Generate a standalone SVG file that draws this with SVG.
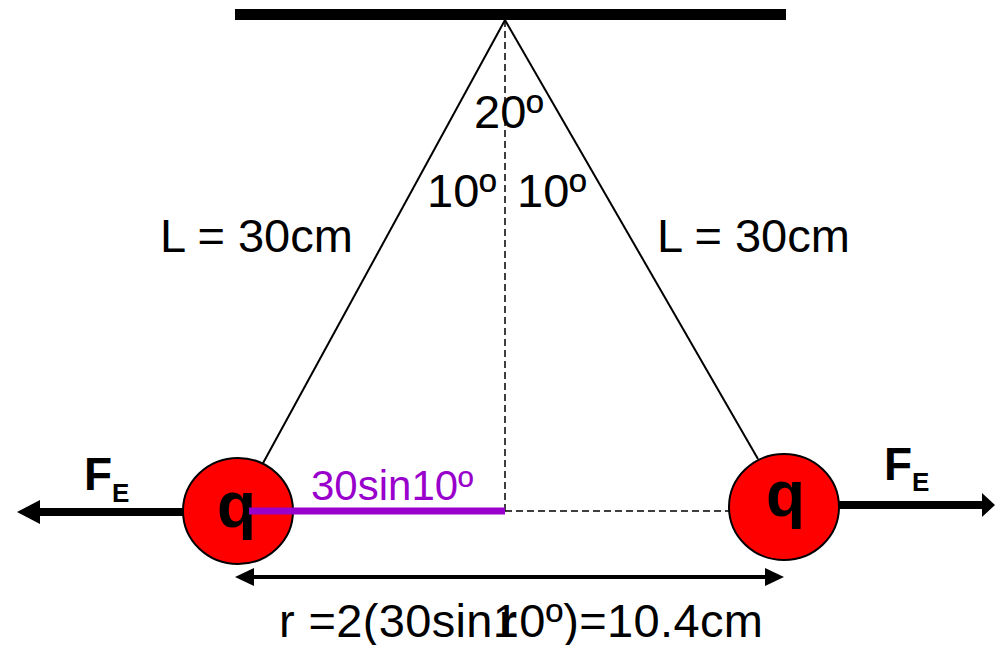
<svg xmlns="http://www.w3.org/2000/svg" width="995" height="645" viewBox="0 0 995 645">
<style>
.t{font-family:"Liberation Sans",Arial,sans-serif;font-size:47px;fill:#000}
.b{font-family:"Liberation Sans",Arial,sans-serif;font-weight:bold;fill:#000}
.ball{fill:#ff0000;stroke:#000;stroke-width:2}
.str{stroke:#000;stroke-width:2;fill:none}
.dash{stroke:#000;stroke-width:1.5;stroke-dasharray:7 4;fill:none}
</style>
<rect width="995" height="645" fill="#fff"/>
<g id="ceiling"><rect x="235" y="9" width="551" height="11" fill="#000"/></g>
<g id="connectors">
<line class="str" x1="505" y1="20" x2="262" y2="465"/>
<line class="str" x1="505" y1="20" x2="758" y2="459"/>
<line class="dash" x1="505" y1="20" x2="505" y2="512"/>
<line class="dash" x1="505" y1="511" x2="772" y2="511"/>
<line x1="183" y1="512" x2="38" y2="512" stroke="#000" stroke-width="8"/>
<polygon points="17,512 40,500 40,524" fill="#000"/>
<line x1="839" y1="505" x2="985" y2="505" stroke="#000" stroke-width="8"/>
<polygon points="995,505 982,493 982,517" fill="#000"/>
<line x1="250" y1="577" x2="768" y2="577" stroke="#000" stroke-width="4"/>
<polygon points="235,577 254,568 254,586" fill="#000"/>
<polygon points="784,577 765,568 765,586" fill="#000"/>
</g>
<g id="left-charge">
<ellipse class="ball" cx="238" cy="511" rx="55" ry="53"/>
<text class="b" x="217" y="527" font-size="64">q</text>
</g>
<g id="right-charge">
<ellipse class="ball" cx="784" cy="507" rx="55" ry="53"/>
<text class="b" x="766" y="516" font-size="64">q</text>
</g>
<g id="purple-segment">
<line x1="249" y1="511" x2="505" y2="511" stroke="#9900cc" stroke-width="7"/>
<text x="311" y="500" font-family="Liberation Sans, Arial, sans-serif" font-size="42" fill="#9900cc">30sin10º</text>
</g>
<g id="labels">
<text class="t" x="474" y="128">20º</text>
<text class="t" x="427" y="207">10º</text>
<text class="t" x="517" y="207">10º</text>
<text class="t" x="160" y="252">L = 30cm</text>
<text class="t" x="657" y="252">L = 30cm</text>
<text class="b" x="84" y="490" font-size="46">F<tspan font-size="26" dy="12">E</tspan></text>
<text class="b" x="884" y="480" font-size="46">F<tspan font-size="26" dy="11">E</tspan></text>
<text class="t" x="279" y="637" textLength="484" lengthAdjust="spacing">r =2(30sin10º)=10.4cm</text>
<text class="b" x="499" y="637" font-size="46">r</text>
</g>
</svg>
